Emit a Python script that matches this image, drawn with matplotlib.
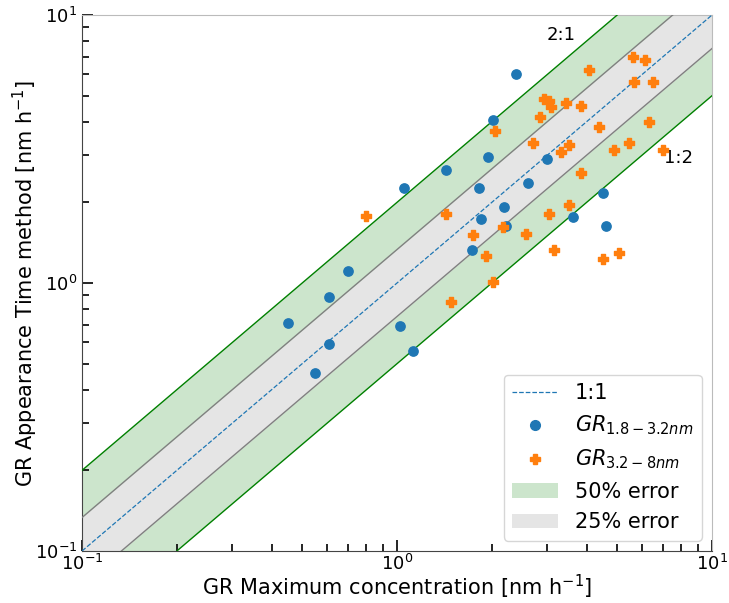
import numpy as np
import matplotlib.pyplot as plt
from matplotlib.patches import Patch
from matplotlib.lines import Line2D

# GR 1.8-3.2 nm (blue)
gr_small_max = [2.39, 2.02, 1.95, 1.43, 1.05, 1.82, 2.99, 2.61, 2.19, 1.85, 2.22,
                4.51, 3.62, 4.61, 1.73, 0.70, 0.61, 0.45, 1.02, 0.61, 0.55, 1.12]
gr_small_app = [6.03, 4.06, 2.95, 2.64, 2.26, 2.26, 2.90, 2.36, 1.92, 1.73, 1.63,
                2.17, 1.76, 1.63, 1.33, 1.11, 0.89, 0.71, 0.69, 0.59, 0.46, 0.56]

# GR 3.2-8 nm (orange)
gr_large_max = [5.61, 6.13, 4.07, 5.65, 6.50, 2.93, 3.04, 3.08, 3.44, 3.84, 2.84,
                2.05, 6.31, 4.38, 2.70, 3.32, 3.52, 5.45, 4.89, 6.99, 3.84, 1.43,
                3.04, 3.52, 2.17, 2.57, 1.74, 1.92, 3.15, 4.51, 5.07, 2.02, 1.48, 0.80]
gr_large_app = [6.97, 6.80, 6.23, 5.62, 5.62, 4.86, 4.78, 4.54, 4.69, 4.58, 4.16,
                3.69, 3.99, 3.82, 3.33, 3.08, 3.27, 3.33, 3.13, 3.13, 2.57, 1.81,
                1.81, 1.95, 1.62, 1.52, 1.51, 1.26, 1.33, 1.23, 1.29, 1.01, 0.85, 1.78]

fig = plt.figure(figsize=(7.29, 6.03), dpi=100)
ax = fig.add_axes([0.1125, 0.0862, 0.8642, 0.8889])

xx = np.logspace(-1, 1, 200)
ax.fill_between(xx, 0.5 * xx, 2 * xx, color='green', alpha=0.2, lw=0, zorder=1)
ax.fill_between(xx, 0.75 * xx, xx / 0.75, color='#e5e5e5', lw=0, zorder=2)
ax.plot(xx, 2 * xx, color='green', lw=1, zorder=3)
ax.plot(xx, 0.5 * xx, color='green', lw=1, zorder=3)
ax.plot(xx, xx / 0.75, color='gray', lw=1, zorder=3)
ax.plot(xx, 0.75 * xx, color='gray', lw=1, zorder=3)
ax.plot(xx, xx, '--', color='tab:blue', lw=0.9, zorder=4)

ax.scatter(gr_small_max, gr_small_app, s=45, color='tab:blue', zorder=5)
ax.scatter(gr_large_max, gr_large_app, s=55, marker='P', color='tab:orange', zorder=5)

ax.text(3.32, 8.4, '2:1', fontsize=13, ha='center', va='center')
ax.text(7.8, 2.93, '1:2', fontsize=13, ha='center', va='center')

ax.set_xscale('log')
ax.set_yscale('log')
ax.set_xlim(0.1, 10)
ax.set_ylim(0.1, 10)
ax.set_xlabel('GR Maximum concentration [nm h$^{-1}$]', fontsize=15, labelpad=-1)
ax.set_ylabel('GR Appearance Time method [nm h$^{-1}$]', fontsize=15, labelpad=-4)

ax.tick_params(which='both', direction='in', width=1.2, labelsize=13, top=False, right=False)
ax.tick_params(which='major', length=8)
ax.tick_params(which='minor', length=5)
ax.tick_params(axis='x', pad=2)

for spine in ['left', 'bottom']:
    ax.spines[spine].set_color('#444444')
for spine in ['top', 'right']:
    ax.spines[spine].set_color('#bbbbbb')

handles = [
    Line2D([], [], ls='--', color='tab:blue', lw=0.9),
    Line2D([], [], ls='', marker='o', color='tab:blue', markersize=7),
    Line2D([], [], ls='', marker='P', color='tab:orange', markersize=7),
    Patch(facecolor='green', alpha=0.2),
    Patch(facecolor='#e5e5e5'),
]
labels = ['1:1', '$GR_{1.8-3.2nm}$', '$GR_{3.2-8nm}$', '50% error', '25% error']
ax.legend(handles, labels, loc='lower right', fontsize=15, handlelength=2.2)

plt.savefig('out.png', dpi=100)
